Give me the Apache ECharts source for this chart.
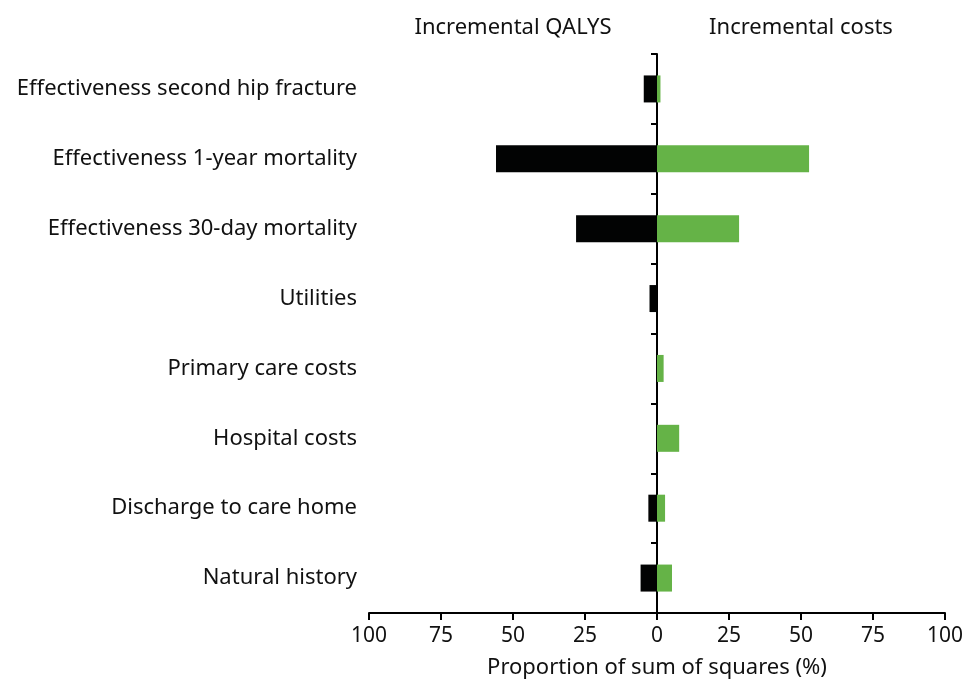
<!DOCTYPE html>
<html>
<head>
<meta charset="utf-8">
<title>Proportion of sum of squares</title>
<script src="https://cdn.jsdelivr.net/npm/echarts@6/dist/echarts.min.js"></script>
<style>
  html, body { margin: 0; padding: 0; background: #ffffff; }
  #chart { width: 966px; height: 682px; }
</style>
</head>
<body>
<div id="chart"></div>
<script>
// Parameters, top to bottom
const categories = [
  'Effectiveness second hip fracture',
  'Effectiveness 1-year mortality',
  'Effectiveness 30-day mortality',
  'Utilities',
  'Primary care costs',
  'Hospital costs',
  'Discharge to care home',
  'Natural history'
];
// Share of sum of squares (%) for each outcome
const qalyShare = [4.6, 55.9, 28.1, 2.6, 0, 0, 3.0, 5.7];
const costShare = [1.2, 52.8, 28.5, 0, 2.3, 7.7, 2.8, 5.2];
const tickValues = [-100, -75, -50, -25, 0, 25, 50, 75, 100];

const FONT = 'Noto Sans';
const chart = echarts.init(document.getElementById('chart'), null, { renderer: 'canvas' });

chart.setOption({
  animation: false,
  textStyle: { fontFamily: FONT, color: '#111' },
  grid: { left: 369, right: 21, top: 54, bottom: 69, containLabel: false, outerBoundsMode: 'none' },
  graphic: [
    { type: 'text', x: 513, y: 28,
      style: { text: 'Incremental QALYS', font: '22px "' + FONT + '"', fill: '#111',
               textAlign: 'center', textVerticalAlign: 'middle' } },
    { type: 'text', x: 801, y: 28,
      style: { text: 'Incremental costs', font: '22px "' + FONT + '"', fill: '#111',
               textAlign: 'center', textVerticalAlign: 'middle' } }
  ],
  xAxis: {
    type: 'value',
    min: tickValues[0],
    max: tickValues[tickValues.length - 1],
    interval: 25,
    name: 'Proportion of sum of squares (%)',
    nameLocation: 'middle',
    nameGap: 44,
    nameTextStyle: { fontSize: 22, color: '#111', fontFamily: FONT },
    axisLine: { show: true, onZero: false, lineStyle: { color: '#000', width: 2 } },
    axisTick: { show: true, length: 7, lineStyle: { color: '#000', width: 2 } },
    axisLabel: { fontSize: 21, color: '#111', margin: 13,
                 formatter: v => String(Math.abs(v)) },
    splitLine: { show: false }
  },
  yAxis: [
    {
      type: 'category',
      data: categories,
      inverse: true,
      position: 'left',
      axisLine: { show: false, onZero: false },
      axisTick: { show: false },
      axisLabel: { fontSize: 22, color: '#111', margin: 12 }
    },
    {
      type: 'category',
      data: categories,
      inverse: true,
      position: 'right',
      axisLine: { show: true, onZero: true, lineStyle: { color: '#000', width: 2 } },
      axisTick: { show: true, inside: true, length: 6, lineStyle: { color: '#000', width: 2 } },
      axisLabel: { show: false }
    }
  ],
  series: [
    {
      name: 'Incremental QALYS',
      type: 'bar',
      stack: 'share',
      yAxisIndex: 0,
      barWidth: 27,
      itemStyle: { color: '#020303' },
      data: qalyShare.map(v => -v)
    },
    {
      name: 'Incremental costs',
      type: 'bar',
      stack: 'share',
      yAxisIndex: 0,
      barWidth: 27,
      itemStyle: { color: '#65b347' },
      data: costShare
    }
  ]
});
</script>
</body>
</html>
